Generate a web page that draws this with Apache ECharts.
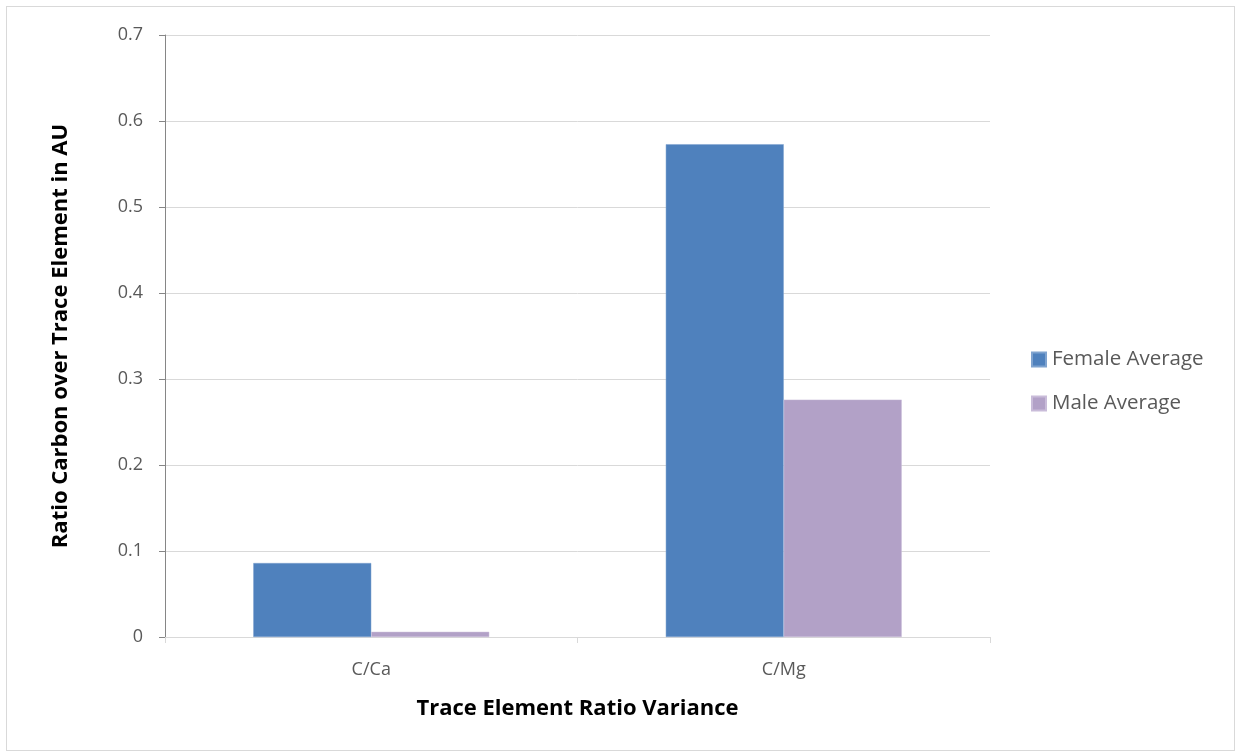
<!DOCTYPE html>
<html><head><meta charset="utf-8">
<script src="https://cdn.jsdelivr.net/npm/echarts@6/dist/echarts.min.js"></script>
<style>html,body{margin:0;padding:0;background:#fff}#c{width:1236px;height:753px}
#frame{position:absolute;left:6px;top:6px;width:1227px;height:743px;border:1px solid #d9d9d9;pointer-events:none}</style>
</head><body><div id="c"></div><div id="frame"></div>
<script>
const categories = ['C/Ca', 'C/Mg'];
const femaleAverage = [0.086, 0.573];
const maleAverage = [0.006, 0.276];
const yTicks = [0, 0.1, 0.2, 0.3, 0.4, 0.5, 0.6, 0.7];

const chart = echarts.init(document.getElementById('c'));
const font = '"Open Sans", "Liberation Sans", sans-serif';
chart.setOption({
  animation: false,
  textStyle: { fontFamily: font },
  grid: { left: 165, right: 246, top: 35, bottom: 116 },
  legend: {
    orient: 'vertical', left: 1026, top: 344,
    itemWidth: 14, itemHeight: 14, itemGap: 23,
    icon: 'rect',
    textStyle: { fontSize: 20.5, color: '#595959', fontFamily: font, padding: [0, 0, 0, 1] },
    data: ['Female Average', 'Male Average']
  },
  xAxis: {
    type: 'category', data: categories,
    name: 'Trace Element Ratio Variance', nameLocation: 'middle', nameGap: 61,
    nameTextStyle: { fontSize: 22, fontWeight: 'bold', color: '#000', fontFamily: font },
    axisLine: { lineStyle: { color: '#d9d9d9', width: 1 } },
    axisTick: { show: true, length: 6, lineStyle: { color: '#d9d9d9' } },
    axisLabel: { fontSize: 18, color: '#595959', margin: 24, fontFamily: font }
  },
  yAxis: {
    type: 'value', min: 0, max: 0.7, interval: 0.1,
    name: 'Ratio Carbon over Trace Element in AU', nameLocation: 'middle', nameGap: 93,
    nameTextStyle: { fontSize: 22, fontWeight: 'bold', color: '#000', fontFamily: font },
    axisLine: { show: true, lineStyle: { color: '#868686', width: 1 } },
    axisTick: { show: true, length: 6, lineStyle: { color: '#868686' } },
    axisLabel: { fontSize: 18, color: '#595959', margin: 22, fontFamily: font,
      formatter: v => { const t = yTicks.find(x => Math.abs(x - v) < 1e-9); return t === undefined ? '' : String(t); } },
    splitLine: { lineStyle: { color: '#d9d9d9', width: 1 } }
  },
  series: [
    { name: 'Female Average', type: 'bar', data: femaleAverage, barCategoryGap: '42.8%', barGap: '0%',
      itemStyle: { color: '#4F81BD', borderColor: '#7fa3cf', borderWidth: 0.5 } },
    { name: 'Male Average', type: 'bar', data: maleAverage, barCategoryGap: '42.8%', barGap: '0%',
      itemStyle: { color: '#B2A1C7', borderColor: '#c9bcd9', borderWidth: 0.5 } }
  ]
});
</script></body></html>
